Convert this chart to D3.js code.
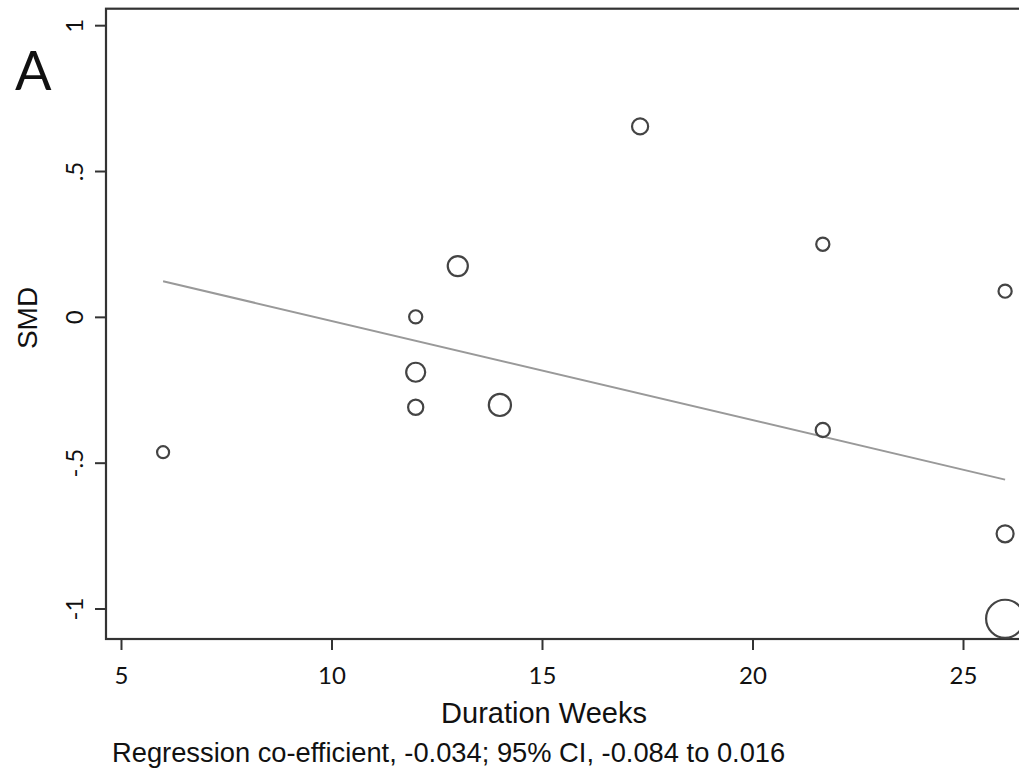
<!DOCTYPE html>
<html>
<head>
<meta charset="utf-8">
<script src="https://cdn.jsdelivr.net/npm/d3@7"></script>
<style>
  body { margin: 0; background: #fff; }
  svg { display: block; }
</style>
</head>
<body>
<div id="chart"></div>
<script>
// study points
var duration = [6, 12, 12, 12, 13, 14, 17.33, 21.67, 21.67, 26, 26, 26];
var smd      = [-0.464, 0.0, -0.19, -0.31, 0.174, -0.302, 0.653, 0.249, -0.388, 0.088, -0.744, -1.035];
var weight   = [10, 12, 25, 16, 28, 34, 18, 12, 14, 12, 20, 100];

// fitted line ends
var fitX = [6, 26];
var fitY = [0.122, -0.558];

var xTicks = [5, 10, 15, 20, 25];
var yTicks = [-1, -0.5, 0, 0.5, 1];
var yTickLabels = ["-1", "-.5", "0", ".5", "1"];

var w = 1019, h = 775;

var svg = d3.select("#chart").append("svg")
    .attr("width", w)
    .attr("height", h);

var xScale = d3.scaleLinear().domain([4.644, 26.33]).range([106, 1019]);
var yScale = d3.scaleLinear().domain([-1.1045, 1.0565]).range([639, 8.7]);
var rScale = d3.scaleSqrt().domain([0, d3.max(weight)]).range([0, 19]);

var points = duration.map(function(d, i) {
    return { x: d, y: smd[i], w: weight[i] };
});

// plot frame
svg.append("rect")
    .attr("x", xScale.range()[0])
    .attr("y", yScale.range()[1])
    .attr("width", xScale.range()[1] - xScale.range()[0] + 4)
    .attr("height", yScale.range()[0] - yScale.range()[1])
    .attr("fill", "none")
    .attr("stroke", "#333")
    .attr("stroke-width", 2.2);

// fitted line
svg.append("line")
    .attr("x1", xScale(fitX[0])).attr("y1", yScale(fitY[0]))
    .attr("x2", xScale(fitX[1])).attr("y2", yScale(fitY[1]))
    .attr("stroke", "#999")
    .attr("stroke-width", 2);

// bubbles
svg.selectAll("circle.pt")
    .data(points)
    .enter()
    .append("circle")
    .attr("class", "pt")
    .attr("cx", function(d) { return xScale(d.x); })
    .attr("cy", function(d) { return yScale(d.y); })
    .attr("r", function(d) { return rScale(d.w); })
    .attr("fill", "none")
    .attr("stroke", "#444")
    .attr("stroke-width", 2.2);

// x axis
var x_axis = d3.axisBottom(xScale)
    .tickValues(xTicks)
    .tickSize(11)
    .tickFormat(d3.format("d"));

var gx = svg.append("g")
    .attr("transform", "translate(0," + yScale.range()[0] + ")")
    .call(x_axis);
gx.select(".domain").remove();
gx.selectAll(".tick line").attr("stroke", "#333").attr("stroke-width", 2);
gx.selectAll(".tick text")
    .attr("y", 45)
    .attr("dy", null)
    .attr("fill", "#111")
    .style("font-family", "Lato, 'Open Sans', sans-serif")
    .style("font-size", "24px");

// y axis
var y_axis = d3.axisLeft(yScale)
    .tickValues(yTicks)
    .tickSize(11)
    .tickFormat(function(d, i) { return yTickLabels[i]; });

var gy = svg.append("g")
    .attr("transform", "translate(" + xScale.range()[0] + ",0)")
    .call(y_axis);
gy.select(".domain").remove();
gy.selectAll(".tick line").attr("stroke", "#333").attr("stroke-width", 2);
gy.selectAll(".tick text")
    .attr("x", null)
    .attr("dy", null)
    .attr("text-anchor", "middle")
    .attr("transform", "translate(-23,0) rotate(-90)")
    .attr("fill", "#111")
    .style("font-family", "Lato, 'Open Sans', sans-serif")
    .style("font-size", "24px");

// titles
svg.append("text")
    .attr("x", 544)
    .attr("y", 723)
    .attr("text-anchor", "middle")
    .style("font-family", "'Liberation Sans', Arial, sans-serif")
    .style("font-size", "29px")
    .attr("fill", "#111")
    .text("Duration Weeks");

svg.append("text")
    .attr("transform", "translate(37,318) rotate(-90)")
    .attr("text-anchor", "middle")
    .style("font-family", "'Liberation Sans', Arial, sans-serif")
    .style("font-size", "28px")
    .attr("fill", "#111")
    .text("SMD");

svg.append("text")
    .attr("x", 112)
    .attr("y", 762)
    .style("font-family", "'Liberation Sans', Arial, sans-serif")
    .style("font-size", "27.3px")
    .attr("fill", "#111")
    .text("Regression co-efficient, -0.034; 95% CI, -0.084 to 0.016");

svg.append("text")
    .attr("x", 15)
    .attr("y", 90)
    .style("font-family", "Lato, 'Open Sans', sans-serif")
    .style("font-size", "54px")
    .attr("fill", "#111")
    .text("A");
</script>
</body>
</html>
